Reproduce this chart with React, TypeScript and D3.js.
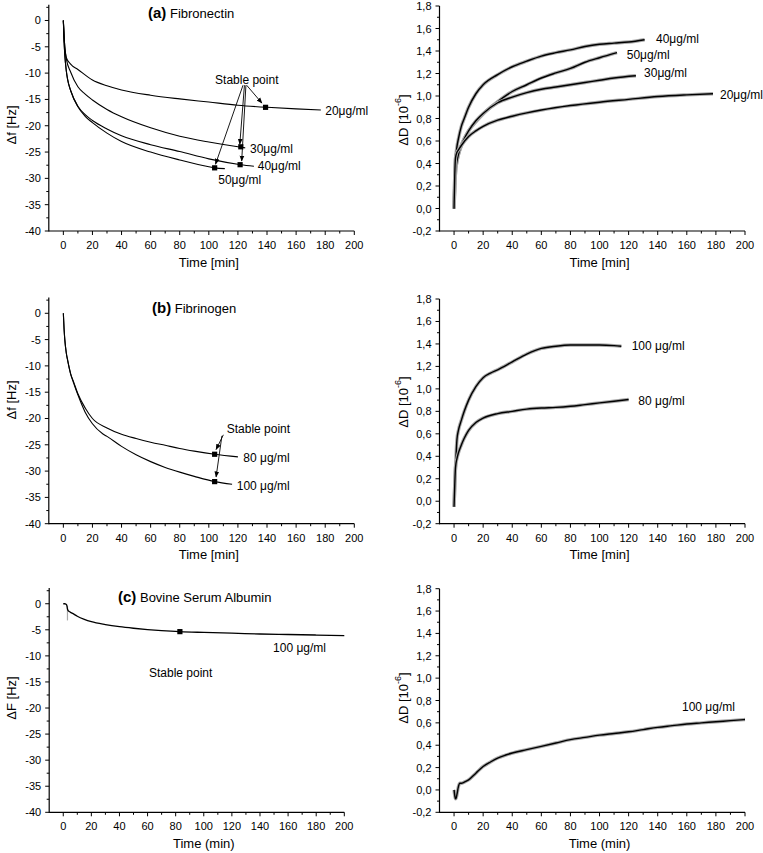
import React from 'react';
import * as d3 from 'd3';

const FONT = "'Liberation Sans', Arial, Helvetica, sans-serif";

// ---------------- Panel (a) Fibronectin, Δf ----------------
const fnT20 = [0, 0.5, 1, 2, 5, 10, 20, 30, 40, 60, 80, 100, 120, 140, 160, 177];
const fnF20 = [0, -3, -5, -7, -8.3, -9.3, -11.3, -12.4, -13.2, -14.2, -14.9, -15.5, -16.1, -16.5, -16.8, -17.0];
const fnT30 = [0, 0.5, 1, 2, 5, 10, 15, 20, 30, 40, 60, 80, 100, 120, 125];
const fnF30 = [0, -3, -5, -7.2, -9.8, -12.6, -14.0, -15.1, -16.9, -18.3, -20.4, -22.0, -23.1, -24.0, -24.2];
const fnT40 = [0, 0.5, 1, 2, 3, 5, 10, 15, 20, 30, 40, 60, 80, 100, 122, 131];
const fnF40 = [0, -4, -6.5, -9.5, -11.3, -13.3, -16.3, -17.9, -19.0, -20.6, -21.9, -23.6, -24.9, -26.3, -27.4, -27.7];
const fnT50 = [0, 0.5, 1, 2, 3, 5, 10, 15, 20, 30, 40, 60, 80, 100, 104, 111];
const fnF50 = [0, -4, -6.5, -9.5, -11.3, -13.3, -16.4, -18.2, -19.4, -21.4, -23.0, -25.0, -26.5, -27.8, -28.0, -28.15];
const fnStableT = [139, 122, 121.5, 104];
const fnStableF = [-16.5, -24.0, -27.4, -28.0];
const fnLabels = ['20μg/ml', '30μg/ml', '40μg/ml', '50μg/ml'];
const fnLabelT = [180, 128.3, 133.6, 106.5];
const fnLabelF = [-17.2, -24.4, -27.6, -30.3];

// ---------------- Panel (a) Fibronectin, ΔD ----------------
const fnDT40 = [0, 0.5, 1, 2, 3, 5, 7, 10, 15, 20, 30, 40, 50, 60, 70, 80, 90, 100, 110, 120, 131];
const fnD40 = [0, 0.3, 0.43, 0.55, 0.62, 0.73, 0.8, 0.9, 1.02, 1.1, 1.19, 1.26, 1.31, 1.355, 1.385, 1.41, 1.44, 1.46, 1.47, 1.48, 1.5];
const fnDT50 = [0, 0.5, 1, 2, 3, 5, 7, 10, 15, 20, 30, 40, 50, 60, 70, 80, 90, 100, 112];
const fnD50 = [0, 0.2, 0.32, 0.42, 0.48, 0.56, 0.62, 0.69, 0.77, 0.84, 0.95, 1.04, 1.1, 1.16, 1.205, 1.245, 1.3, 1.34, 1.385];
const fnDT30 = [0, 0.5, 1, 2, 3, 5, 7, 10, 15, 20, 30, 40, 50, 60, 70, 80, 90, 100, 110, 125];
const fnD30 = [0, 0.2, 0.32, 0.42, 0.48, 0.56, 0.62, 0.69, 0.78, 0.845, 0.94, 0.99, 1.03, 1.06, 1.08, 1.1, 1.12, 1.14, 1.16, 1.18];
const fnDT20 = [0, 0.5, 1, 2, 3, 5, 10, 15, 20, 30, 40, 50, 60, 80, 100, 120, 140, 160, 178];
const fnD20 = [0, 0.3, 0.45, 0.5, 0.52, 0.56, 0.64, 0.69, 0.73, 0.785, 0.82, 0.85, 0.875, 0.915, 0.945, 0.97, 0.995, 1.01, 1.02];
const fnDLabels = ['40μg/ml', '50μg/ml', '30μg/ml', '20μg/ml'];
const fnDLabelT = [138.8, 118.7, 130.6, 182.8];
const fnDLabelV = [1.504, 1.364, 1.202, 1.009];

// ---------------- Panel (b) Fibrinogen, Δf ----------------
const fgT80 = [0, 0.5, 1, 2, 3, 5, 7, 10, 15, 20, 30, 40, 50, 60, 70, 80, 90, 104, 120];
const fgF80 = [0, -3, -5, -7.5, -9, -11.5, -13, -15.3, -18, -20, -21.8, -23, -23.8, -24.5, -25.1, -25.7, -26.2, -26.8, -27.3];
const fgT100 = [0, 0.5, 1, 2, 3, 5, 7, 10, 15, 20, 27, 30, 40, 50, 60, 70, 80, 90, 104, 116];
const fgF100 = [0, -3, -5, -7.5, -9, -11.5, -13.2, -15.5, -18.8, -21, -22.9, -23.4, -25.3, -26.9, -28.2, -29.3, -30.2, -31, -32, -32.5];
const fgStableT = [104, 104];
const fgStableF = [-26.8, -32.0];
const fgLabels = ['80 μg/ml', '100 μg/ml'];
const fgLabelT = [123.7, 119.2];
const fgLabelF = [-27.6, -32.8];

// ---------------- Panel (b) Fibrinogen, ΔD ----------------
const fgDT100 = [0, 0.5, 1, 2, 3, 5, 7, 10, 15, 20, 25, 30, 40, 50, 60, 70, 80, 90, 100, 110, 115];
const fgD100 = [-0.05, 0.15, 0.3, 0.55, 0.63, 0.72, 0.8, 0.9, 1.02, 1.1, 1.14, 1.17, 1.24, 1.31, 1.36, 1.38, 1.39, 1.39, 1.39, 1.385, 1.38];
const fgDT80 = [0, 0.5, 1, 2, 3, 5, 7, 10, 15, 20, 30, 40, 50, 60, 70, 80, 90, 100, 110, 120];
const fgD80 = [-0.05, 0.15, 0.3, 0.38, 0.43, 0.5, 0.56, 0.63, 0.7, 0.74, 0.78, 0.8, 0.82, 0.83, 0.835, 0.845, 0.86, 0.875, 0.89, 0.905];
const fgDLabels = ['100 μg/ml', '80 μg/ml'];
const fgDLabelT = [122.1, 126.7];
const fgDLabelV = [1.382, 0.895];

// ---------------- Panel (c) BSA, ΔF ----------------
const bsaT = [0, 1, 2, 2.5, 3, 3.5, 5, 7, 10, 15, 20, 30, 40, 50, 60, 70, 83, 100, 120, 140, 160, 180, 200];
const bsaF = [0, 0, -0.1, -0.3, -1.0, -1.3, -1.6, -1.9, -2.4, -3.0, -3.45, -4.0, -4.4, -4.7, -4.95, -5.15, -5.35, -5.5, -5.65, -5.8, -5.9, -6.0, -6.1];
const bsaSpikeT = [3, 3];
const bsaSpikeF = [-0.4, -3.2];
const bsaStableT = [83];
const bsaStableF = [-5.35];

// ---------------- Panel (c) BSA, ΔD ----------------
const bsaDT = [0, 0.5, 1, 1.5, 2, 3, 4, 5, 7, 10, 15, 20, 25, 30, 35, 40, 50, 60, 70, 80, 90, 100, 110, 120, 130, 140, 150, 160, 170, 180, 190, 200];
const bsaD = [0, -0.05, -0.08, -0.07, -0.04, 0.03, 0.06, 0.06, 0.07, 0.09, 0.15, 0.21, 0.25, 0.285, 0.31, 0.33, 0.36, 0.39, 0.42, 0.45, 0.47, 0.49, 0.505, 0.52, 0.54, 0.56, 0.575, 0.59, 0.6, 0.61, 0.62, 0.63];

// ---------------- ticks ----------------
const xMajor = [0, 20, 40, 60, 80, 100, 120, 140, 160, 180, 200];
const xMinor = [10, 30, 50, 70, 90, 110, 130, 150, 170, 190];
const fMajor = [-40, -35, -30, -25, -20, -15, -10, -5, 0];
const fMinor = [-37.5, -32.5, -27.5, -22.5, -17.5, -12.5, -7.5, -2.5, 2.5];
const dMajor = [-0.2, 0, 0.2, 0.4, 0.6, 0.8, 1.0, 1.2, 1.4, 1.6, 1.8];
const dMinor = [-0.1, 0.1, 0.3, 0.5, 0.7, 0.9, 1.1, 1.3, 1.5, 1.7];

const zip = (t: number[], v: number[]) => t.map((x, i) => [x, v[i]] as [number, number]);
const fmtComma = (v: number) => v.toFixed(1).replace('.', ',');
const fmtInt = (v: number) => String(v);

type Sc = d3.ScaleLinear<number, number>;

function Axes({ x, y, yMaj, yMin, fmt, xLabel, yLabel }: { x: Sc; y: Sc; yMaj: number[]; yMin: number[]; fmt: (v: number) => string; xLabel: string; yLabel: React.ReactNode }) {
  const [x0, x1] = x.range();
  const [yb, yt] = y.range();
  const yDom = y.domain();
  return (
    <g fontFamily={FONT} fill="#000">
      <line x1={x0} x2={x1} y1={yb} y2={yb} stroke="#000" strokeWidth={1.2} />
      <line x1={x0} x2={x0} y1={yb + 0.6} y2={yt} stroke="#000" strokeWidth={1.2} />
      {xMajor.map((v) => (
        <g key={'xm' + v}>
          <line x1={x(v)} x2={x(v)} y1={yb} y2={yb + 4} stroke="#000" strokeWidth={1} />
          <text x={x(v)} y={yb + 14} fontSize={11} textAnchor="middle" dominantBaseline="central">{v}</text>
        </g>
      ))}
      {xMinor.map((v) => (
        <line key={'xn' + v} x1={x(v)} x2={x(v)} y1={yb} y2={yb + 2.5} stroke="#000" strokeWidth={1} />
      ))}
      {yMaj.map((v) => (
        <g key={'ym' + v}>
          <line x1={x0 - 4} x2={x0} y1={y(v)} y2={y(v)} stroke="#000" strokeWidth={1} />
          <text x={x0 - 8} y={y(v)} fontSize={11} textAnchor="end" dominantBaseline="central">{fmt(v)}</text>
        </g>
      ))}
      {yMin.filter((v) => v <= yDom[1] && v >= yDom[0]).map((v) => (
        <line key={'yn' + v} x1={x0 - 2.5} x2={x0} y1={y(v)} y2={y(v)} stroke="#000" strokeWidth={1} />
      ))}
      <text x={(x(0) + x(200)) / 2} y={yb + 31} fontSize={13} textAnchor="middle" dominantBaseline="central">{xLabel}</text>
      {yLabel}
    </g>
  );
}

function YLab({ x, y, text, sup }: { x: number; y: number; text: string; sup?: string }) {
  return (
    <text transform={`translate(${x},${y}) rotate(-90)`} fontSize={13} textAnchor="middle" dominantBaseline="central" fontFamily={FONT}>
      {text}
      {sup ? <tspan fontSize={9} dy={-5}>{sup}</tspan> : null}
      {sup ? <tspan dy={5}>]</tspan> : null}
    </text>
  );
}

function FLine({ x, y, data, w = 1.1, color = '#000' }: { x: Sc; y: Sc; data: [number, number][]; w?: number; color?: string }) {
  const gen = d3.line<[number, number]>().x((d) => x(d[0])).y((d) => y(d[1])).curve(d3.curveMonotoneX);
  return <path d={gen(data) || ''} fill="none" stroke={color} strokeWidth={w} />;
}

function DLine({ x, y, data }: { x: Sc; y: Sc; data: [number, number][] }) {
  const gen = d3.line<[number, number]>().x((d) => x(d[0])).y((d) => y(d[1])).curve(d3.curveMonotoneX);
  const d = gen(data) || '';
  return (
    <g>
      <path d={d} fill="none" stroke="#a8a8a8" strokeWidth={3.4} />
      <path d={d} fill="none" stroke="#000" strokeWidth={1.4} />
    </g>
  );
}

function Sq({ x, y, t, v }: { x: Sc; y: Sc; t: number; v: number }) {
  return <rect x={x(t) - 2.6} y={y(v) - 2.6} width={5.2} height={5.2} fill="#000" />;
}

function Arrow({ x, y, t0, v0, t1, v1 }: { x: Sc; y: Sc; t0: number; v0: number; t1: number; v1: number }) {
  return <line x1={x(t0)} y1={y(v0)} x2={x(t1)} y2={y(v1)} stroke="#000" strokeWidth={0.9} markerEnd="url(#ah)" />;
}

function Label({ x, y, t, v, text, size = 12 }: { x: Sc; y: Sc; t: number; v: number; text: string; size?: number }) {
  return <text x={x(t)} y={y(v)} fontSize={size} fontFamily={FONT} dominantBaseline="central">{text}</text>;
}

export default function App() {
  const xL = d3.scaleLinear().domain([-10, 200]).range([48.8, 354.3]);
  const xLc = d3.scaleLinear().domain([-10, 200]).range([49.2, 344.3]);
  const xR = d3.scaleLinear().domain([-10, 200]).range([439.5, 745]);
  const yLa = d3.scaleLinear().domain([-40, 3]).range([231, 4.7]);
  const yLb = d3.scaleLinear().domain([-40, 3]).range([523.7, 297.5]);
  const yLc = d3.scaleLinear().domain([-40, 3]).range([812.3, 588.1]);
  const yRa = d3.scaleLinear().domain([-0.2, 1.8]).range([231, 6]);
  const yRb = d3.scaleLinear().domain([-0.2, 1.8]).range([523.7, 299]);
  const yRc = d3.scaleLinear().domain([-0.2, 1.8]).range([812.3, 588.7]);

  const fnF = [zip(fnT20, fnF20), zip(fnT30, fnF30), zip(fnT40, fnF40), zip(fnT50, fnF50)];
  const fnD = [zip(fnDT40, fnD40), zip(fnDT50, fnD50), zip(fnDT30, fnD30), zip(fnDT20, fnD20)];

  return (
    <div style={{ position: 'absolute', left: 0, top: 0 }}>
      <svg width={763} height={853} style={{ display: 'block', background: '#fff' }}>
        <defs>
          <marker id="ah" viewBox="0 0 10 10" refX="9" refY="5" markerWidth="6" markerHeight="6" orient="auto" markerUnits="userSpaceOnUse">
            <path d="M0,1 L10,5 L0,9 z" fill="#000" />
          </marker>
        </defs>
        <rect x={0} y={0} width={763} height={853} fill="#fff" />

        {/* ===== Row (a) left ===== */}
        <Axes x={xL} y={yLa} yMaj={fMajor} yMin={fMinor} fmt={fmtInt} xLabel="Time [min]" yLabel={<YLab x={11} y={125} text="Δf [Hz]" />} />
        <text x={148} y={18} fontFamily={FONT}>
          <tspan fontWeight="bold" fontSize={15}>(a)</tspan>
          <tspan fontSize={13}> Fibronectin</tspan>
        </text>
        {fnF.map((s, i) => <FLine key={'fnf' + i} x={xL} y={yLa} data={s} />)}
        {fnStableT.map((t, i) => <Sq key={'fns' + i} x={xL} y={yLa} t={t} v={fnStableF[i]} />)}
        <Label x={xL} y={yLa} t={104.3} v={-11.4} text="Stable point" />
        <Arrow x={xL} y={yLa} t0={126} v0={-12.3} t1={136.5} v1={-15.7} />
        <Arrow x={xL} y={yLa} t0={124.5} v0={-12.3} t1={121.3} v1={-23.5} />
        <Arrow x={xL} y={yLa} t0={125.5} v0={-12.3} t1={122.6} v1={-26.7} />
        <Arrow x={xL} y={yLa} t0={123.5} v0={-12.3} t1={104.6} v1={-27.3} />
        {fnLabels.map((s, i) => <Label key={'fnl' + i} x={xL} y={yLa} t={fnLabelT[i]} v={fnLabelF[i]} text={s} />)}

        {/* ===== Row (a) right ===== */}
        <Axes x={xR} y={yRa} yMaj={dMajor} yMin={dMinor} fmt={fmtComma} xLabel="Time [min]" yLabel={<YLab x={403} y={120} text="ΔD [10" sup="-6" />} />
        {fnD.map((s, i) => <DLine key={'fnd' + i} x={xR} y={yRa} data={s} />)}
        {fnDLabels.map((s, i) => <Label key={'fndl' + i} x={xR} y={yRa} t={fnDLabelT[i]} v={fnDLabelV[i]} text={s} />)}

        {/* ===== Row (b) left ===== */}
        <Axes x={xL} y={yLb} yMaj={fMajor} yMin={fMinor} fmt={fmtInt} xLabel="Time [min]" yLabel={<YLab x={11} y={400} text="Δf [Hz]" />} />
        <text x={152} y={313} fontFamily={FONT}>
          <tspan fontWeight="bold" fontSize={15}>(b)</tspan>
          <tspan fontSize={13}> Fibrinogen</tspan>
        </text>
        <FLine x={xL} y={yLb} data={zip(fgT80, fgF80)} />
        <FLine x={xL} y={yLb} data={zip(fgT100, fgF100)} />
        {fgStableT.map((t, i) => <Sq key={'fgs' + i} x={xL} y={yLb} t={t} v={fgStableF[i]} />)}
        <Label x={xL} y={yLb} t={112.3} v={-22.0} text="Stable point" />
        <Arrow x={xL} y={yLb} t0={110} v0={-23.1} t1={105} v1={-25.9} />
        <Arrow x={xL} y={yLb} t0={109} v0={-23.3} t1={105} v1={-31.1} />
        {fgLabels.map((s, i) => <Label key={'fgl' + i} x={xL} y={yLb} t={fgLabelT[i]} v={fgLabelF[i]} text={s} />)}

        {/* ===== Row (b) right ===== */}
        <Axes x={xR} y={yRb} yMaj={dMajor} yMin={dMinor} fmt={fmtComma} xLabel="Time [min]" yLabel={<YLab x={403} y={402} text="ΔD [10" sup="-6" />} />
        <DLine x={xR} y={yRb} data={zip(fgDT100, fgD100)} />
        <DLine x={xR} y={yRb} data={zip(fgDT80, fgD80)} />
        {fgDLabels.map((s, i) => <Label key={'fgdl' + i} x={xR} y={yRb} t={fgDLabelT[i]} v={fgDLabelV[i]} text={s} />)}

        {/* ===== Row (c) left ===== */}
        <Axes x={xLc} y={yLc} yMaj={fMajor} yMin={fMinor} fmt={fmtInt} xLabel="Time (min)" yLabel={<YLab x={11} y={698} text="ΔF [Hz]" />} />
        <text x={118} y={602} fontFamily={FONT}>
          <tspan fontWeight="bold" fontSize={15}>(c)</tspan>
          <tspan fontSize={13}> Bovine Serum Albumin</tspan>
        </text>
        <FLine x={xLc} y={yLc} data={zip(bsaSpikeT, bsaSpikeF)} color="#aaa" w={1.2} />
        <FLine x={xLc} y={yLc} data={zip(bsaT, bsaF)} w={1.3} />
        {bsaStableT.map((t, i) => <Sq key={'bs' + i} x={xLc} y={yLc} t={t} v={bsaStableF[i]} />)}
        <Label x={xLc} y={yLc} t={149.3} v={-8.5} text="100 μg/ml" />
        <Label x={xLc} y={yLc} t={61} v={-13.2} text="Stable point" />

        {/* ===== Row (c) right ===== */}
        <Axes x={xR} y={yRc} yMaj={dMajor} yMin={dMinor} fmt={fmtComma} xLabel="Time (min)" yLabel={<YLab x={403} y={698} text="ΔD [10" sup="-6" />} />
        <DLine x={xR} y={yRc} data={zip(bsaDT, bsaD)} />
        <Label x={xR} y={yRc} t={156.7} v={0.745} text="100 μg/ml" />
      </svg>
    </div>
  );
}
